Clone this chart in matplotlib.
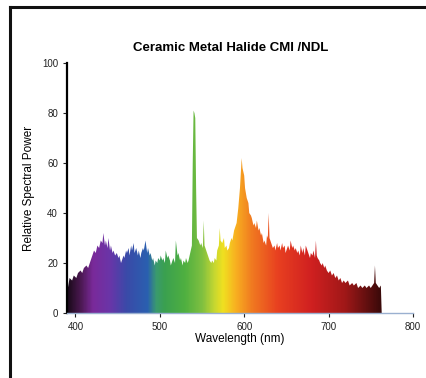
import numpy as np
import matplotlib
matplotlib.use("Agg")
import matplotlib.pyplot as plt
from matplotlib.colors import LinearSegmentedColormap
from matplotlib.patches import Polygon
from matplotlib.lines import Line2D

plt.rcParams['font.family'] = ['Liberation Sans', 'DejaVu Sans']

# spectrum (nm, relative power)
wavelength = [390, 391, 393, 396, 398, 401, 403, 406, 408, 410, 413, 415, 418, 420, 422,
              424, 426, 428, 430, 432, 433, 435, 436, 438, 439, 441, 442, 444, 445, 447,
              449, 451, 452, 454, 455, 457, 458, 460, 461, 463, 464, 466, 467, 469, 470,
              472, 474, 475, 477, 478, 480, 481, 483, 485, 486, 488, 489, 491, 492, 494,
              495, 497, 498, 500, 501, 503, 504, 506, 507, 509, 510, 512, 513, 515, 516,
              518, 519, 521, 522, 524, 525, 527, 528, 530, 531, 533, 534, 536, 538, 539,
              540, 541, 542, 543, 544, 546, 548, 549, 551, 552, 553, 555, 556, 558, 559,
              561, 562, 564, 565, 567, 568, 570, 571, 572, 574, 576, 577, 579, 580, 582,
              583, 585, 586, 588, 590, 591, 593, 595, 597, 598, 600, 601, 603, 605, 606,
              608, 609, 611, 612, 614, 615, 617, 618, 620, 621, 623, 624, 626, 627, 628,
              629, 630, 632, 634, 636, 637, 639, 640, 642, 643, 645, 646, 648, 649, 651,
              652, 654, 655, 657, 658, 660, 661, 663, 664, 666, 667, 669, 670, 672, 673,
              675, 676, 678, 679, 681, 682, 684, 685, 686, 687, 689, 690, 692, 693, 695,
              696, 698, 700, 702, 704, 706, 708, 710, 712, 714, 716, 718, 720, 723, 725,
              728, 730, 733, 735, 738, 740, 743, 745, 748, 750, 752, 754, 755, 756, 758,
              760, 762, 763]
power = [0, 10, 14, 13, 15, 14, 16, 17, 16, 18, 19, 18, 21, 23, 25,
         24, 27, 26, 29, 28, 32, 27, 29, 26, 30, 25, 27, 24, 25, 23,
         24, 22, 23, 20, 21, 23, 22, 25, 24, 26, 23, 27, 25, 28, 24,
         26, 23, 25, 22, 24, 26, 25, 29, 24, 26, 23, 24, 21, 22, 19,
         21, 20, 22, 21, 23, 21, 22, 20, 25, 22, 23, 21, 19, 21, 22,
         20, 29, 23, 24, 21, 22, 19, 21, 20, 22, 20, 21, 24, 27, 60,
         81, 80, 78, 50, 30, 29, 27, 28, 26, 37, 27, 25, 24, 22, 21,
         20, 21, 20, 22, 21, 25, 27, 34, 29, 28, 30, 26, 27, 25, 26,
         28, 30, 29, 33, 35, 36, 42, 50, 62, 58, 55, 50, 46, 44, 40,
         39, 38, 35, 36, 34, 37, 33, 34, 31, 32, 28, 29, 27, 31, 30,
         40, 30, 28, 26, 27, 25, 28, 26, 27, 25, 28, 26, 27, 24, 26,
         27, 25, 29, 26, 27, 25, 26, 24, 25, 23, 27, 24, 26, 23, 27,
         25, 24, 22, 24, 23, 25, 22, 29, 23, 22, 21, 20, 19, 20, 18,
         19, 17, 16, 17, 15, 16, 14, 15, 13, 14, 12, 13, 12, 13, 11,
         12, 11, 12, 10, 11, 10, 11, 10, 11, 10, 11, 12, 19, 12, 11,
         10, 11, 0]

x_ticks = [400, 500, 600, 700, 800]
y_ticks = [0, 20, 40, 60, 80, 100]

# colour stops along the wavelength axis
stops_nm = [390, 405, 420, 440, 460, 485, 495, 505, 530, 550, 565, 575, 590, 610, 640, 680, 720, 763]
stops_col = ['#1a0a1a', '#4a1850', '#7a2a9a', '#6a35a8', '#3a4aa8', '#2a60b0', '#3a9a70',
             '#3aa050', '#50b040', '#80c040', '#c8d830', '#f0e020', '#f8b020', '#f07820',
             '#e84020', '#d02020', '#a01818', '#3a0a0a']

lo, hi = stops_nm[0], stops_nm[-1]
cmap = LinearSegmentedColormap.from_list(
    'spec', [((n - lo) / (hi - lo), c) for n, c in zip(stops_nm, stops_col)])

fig = plt.figure(figsize=(4.27, 3.78), dpi=100)
ax = fig.add_axes([0.157, 0.172, 0.81, 0.661])

grad = np.linspace(0, 1, 600).reshape(1, -1)
im = ax.imshow(grad, extent=[lo, hi, 0, 100], aspect='auto', cmap=cmap, origin='lower', zorder=2)
poly = Polygon(np.column_stack([wavelength, power]), closed=True, facecolor='none', edgecolor='none')
ax.add_patch(poly)
im.set_clip_path(poly)

ax.set_xlim(390, 800)
ax.set_ylim(0, 100)
ax.set_xticks(x_ticks)
ax.set_yticks(y_ticks)
ax.tick_params(labelsize=7, length=3, width=0.8, colors='#222222')
for s in ['top', 'right']:
    ax.spines[s].set_visible(False)
ax.spines['left'].set_linewidth(1.6)
ax.spines['bottom'].set_color('#9ab0d0')
ax.spines['bottom'].set_linewidth(1.0)

ax.set_xlabel('Wavelength (nm)', fontsize=8.5, labelpad=1)
ax.set_ylabel('Relative Spectral Power', fontsize=8.5, labelpad=5)
fig.text(0.54, 0.872, 'Ceramic Metal Halide CMI /NDL', ha='center', va='center',
         fontsize=9.5, fontweight='bold')

# frame lines along the top and left edge
fig.add_artist(Line2D([10 / 427, 1], [1 - 7 / 378, 1 - 7 / 378], color='#111111', lw=2.2))
fig.add_artist(Line2D([10 / 427, 10 / 427], [0, 1 - 7 / 378], color='#111111', lw=2.2))

fig.savefig('out.png', dpi=100)
